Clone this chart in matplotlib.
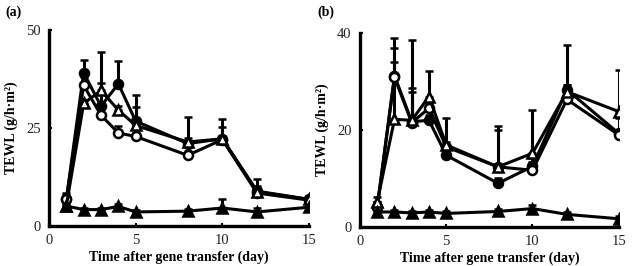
import matplotlib
matplotlib.use("Agg")
import matplotlib.pyplot as plt
import numpy as np

days = [1, 2, 3, 4, 5, 8, 10, 12, 15]

# Panel (a)
a_fc = [6.8, 39.0, 30.5, 36.2, 26.7, 21.0, 22.2, 8.9, 6.8]
a_oc = [6.8, 35.8, 28.2, 23.7, 22.8, 18.0, 22.0, 8.4, 6.6]
a_ot = [5.2, 31.2, 34.5, 29.5, 25.6, 21.4, 22.2, 8.7, 6.8]
a_ft = [5.1, 4.2, 4.2, 5.0, 3.6, 3.8, 4.6, 3.6, 4.8]
a_fc_err = [1.5, 3.2, 6.0, 5.7, 6.7, 1.5, 5.0, 3.0, 0.8]
a_oc_err = [1.0, 2.0, 1.5, 1.7, 1.0, 1.0, 1.0, 1.5, 0.5]
a_ot_err = [0.8, 1.0, 9.8, 1.0, 4.7, 6.4, 3.0, 1.5, 0.5]
a_ft_err = [0.5, 0.5, 0.5, 0.5, 0.5, 0.5, 2.2, 1.1, 0.5]

# Panel (b)
b_fc = [4.1, 31.2, 21.7, 22.0, 14.8, 9.0, 12.5, 28.3, 19.3]
b_oc = [4.1, 30.9, 21.5, 24.5, 16.5, 12.4, 11.7, 26.3, 19.0]
b_ot = [5.2, 22.2, 22.0, 26.9, 16.9, 12.4, 15.2, 27.9, 23.8]
b_ft = [3.1, 3.1, 2.9, 3.1, 2.8, 3.2, 3.8, 2.6, 1.7]
b_fc_err = [1.0, 7.8, 6.2, 1.0, 1.5, 1.0, 1.0, 1.0, 3.1]
b_oc_err = [1.0, 3.2, 7.1, 1.0, 1.0, 7.5, 2.5, 3.0, 1.0]
b_ot_err = [1.0, 14.7, 16.6, 5.2, 5.5, 8.4, 8.9, 9.7, 8.6]
b_ft_err = [0.5, 0.5, 0.5, 0.5, 0.5, 0.5, 0.7, 0.5, 0.6]

x_ticks = [0, 5, 10, 15]
a_yticks = [0, 25, 50]
b_yticks = [0, 20, 40]

plt.rcParams['font.family'] = ['Liberation Serif', 'DejaVu Serif']

fig = plt.figure(figsize=(6.32, 2.66), dpi=100)
axA = fig.add_axes([0.0775, 0.150, 0.4115, 0.739])
axB = fig.add_axes([0.5696, 0.1466, 0.4094, 0.7294])

def draw(ax, series, yticks, ymax):
    styles = [
        dict(marker='o', mfc='black'),
        dict(marker='o', mfc='white'),
        dict(marker='^', mfc='white'),
        dict(marker='^', mfc='black'),
    ]
    for (vals, errs), st in zip(series, styles):
        lower = np.zeros(len(errs))
        ax.errorbar(days, vals, yerr=[lower, errs], color='black', lw=2.2,
                    elinewidth=2.2, capsize=3, capthick=1.6,
                    marker=st['marker'], mfc=st['mfc'], mec='black',
                    mew=1.8, ms=6.5)
    ax.set_xlim(0, 15)
    ax.set_ylim(0, ymax)
    ax.set_xticks(x_ticks)
    ax.set_yticks(yticks)
    for s in ['top', 'right']:
        ax.spines[s].set_visible(False)
    for s in ['left', 'bottom']:
        ax.spines[s].set_linewidth(2.4)
    ax.tick_params(axis='both', direction='in', length=2, width=1.5,
                   labelsize=10.5, pad=6, labelcolor='#222222')
    ax.set_xlabel('Time after gene transfer (day)', fontsize=10,
                  fontweight='bold', labelpad=2)
    ax.set_ylabel('TEWL (g/h\u00b7m\u00b2)', fontsize=10,
                  fontweight='bold', labelpad=6)
    ax.patch.set_visible(False)

draw(axA, [(a_fc, a_fc_err), (a_oc, a_oc_err), (a_ot, a_ot_err), (a_ft, a_ft_err)],
     a_yticks, 50)
draw(axB, [(b_fc, b_fc_err), (b_oc, b_oc_err), (b_ot, b_ot_err), (b_ft, b_ft_err)],
     b_yticks, 40)

fig.text(0.008, 0.955, '(a)', fontsize=10, fontweight='bold', va='center')
fig.text(0.502, 0.955, '(b)', fontsize=10, fontweight='bold', va='center')

fig.savefig('out.png', dpi=100)
